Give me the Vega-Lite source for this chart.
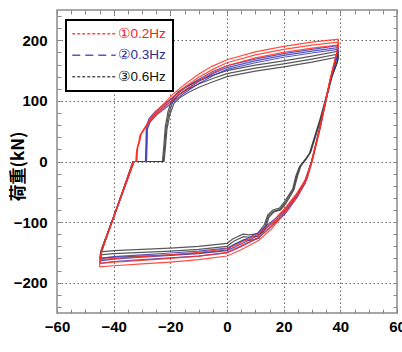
{
"$schema": "https://vega.github.io/schema/vega-lite/v6.json",
"width": 340, "height": 303,
"autosize": {"type": "none"},
"padding": {"left": 57, "top": 10, "right": 5, "bottom": 39},
"background": "white",
"config": {"view": {"stroke": "#8a8a8a", "strokeWidth": 1.5}, "font": "Liberation Sans",
 "legend": {"padding": 7, "strokeColor": "black", "fillColor": "white", "strokeWidth": 2,
  "symbolType": "M-2.5,0H12", "symbolSize": 36, "symbolStrokeWidth": 1.3, "symbolFillColor": "transparent",
  "labelFont": "Liberation Sans", "labelFontSize": 13.5, "labelOffset": 31, "rowPadding": 6.5, "labelLimit": 200}},
"data": {"values": [
{"s":"③0.6Hz","c":1,"i":1,"x":-45,"y":-160},{"s":"③0.6Hz","c":1,"i":2,"x":-44.5,"y":-150},{"s":"③0.6Hz","c":1,"i":3,"x":-38.7,"y":-74},{"s":"③0.6Hz","c":1,"i":4,"x":-33.2,"y":0},{"s":"③0.6Hz","c":1,"i":5,"x":-22.8,"y":0},{"s":"③0.6Hz","c":1,"i":6,"x":-22.3,"y":25},{"s":"③0.6Hz","c":1,"i":7,"x":-21.8,"y":57},{"s":"③0.6Hz","c":1,"i":8,"x":-20.8,"y":83},{"s":"③0.6Hz","c":1,"i":9,"x":-19.3,"y":104},{"s":"③0.6Hz","c":1,"i":10,"x":-17.3,"y":115},{"s":"③0.6Hz","c":1,"i":11,"x":-14.3,"y":124},{"s":"③0.6Hz","c":1,"i":12,"x":-10.3,"y":133},{"s":"③0.6Hz","c":1,"i":13,"x":-5.3,"y":142},{"s":"③0.6Hz","c":1,"i":14,"x":0,"y":150},{"s":"③0.6Hz","c":1,"i":15,"x":10,"y":159},{"s":"③0.6Hz","c":1,"i":16,"x":20,"y":166},{"s":"③0.6Hz","c":1,"i":17,"x":30,"y":174},{"s":"③0.6Hz","c":1,"i":18,"x":39.2,"y":182},{"s":"③0.6Hz","c":1,"i":19,"x":39.4,"y":172},{"s":"③0.6Hz","c":1,"i":20,"x":37.2,"y":142},{"s":"③0.6Hz","c":1,"i":21,"x":33.3,"y":72},{"s":"③0.6Hz","c":1,"i":22,"x":29.6,"y":16},{"s":"③0.6Hz","c":1,"i":23,"x":27.8,"y":3},{"s":"③0.6Hz","c":1,"i":24,"x":26.1,"y":-7},{"s":"③0.6Hz","c":1,"i":25,"x":24.9,"y":-24},{"s":"③0.6Hz","c":1,"i":26,"x":23.6,"y":-47},{"s":"③0.6Hz","c":1,"i":27,"x":20.7,"y":-70},{"s":"③0.6Hz","c":1,"i":28,"x":18.9,"y":-80},{"s":"③0.6Hz","c":1,"i":29,"x":16.6,"y":-83},{"s":"③0.6Hz","c":1,"i":30,"x":14.8,"y":-92},{"s":"③0.6Hz","c":1,"i":31,"x":13.6,"y":-110},{"s":"③0.6Hz","c":1,"i":32,"x":11.2,"y":-127},{"s":"③0.6Hz","c":1,"i":33,"x":8.2,"y":-130},{"s":"③0.6Hz","c":1,"i":34,"x":6,"y":-129},{"s":"③0.6Hz","c":1,"i":35,"x":2.4,"y":-137},{"s":"③0.6Hz","c":1,"i":36,"x":0,"y":-146},{"s":"③0.6Hz","c":1,"i":37,"x":-10,"y":-151},{"s":"③0.6Hz","c":1,"i":38,"x":-20,"y":-154},{"s":"③0.6Hz","c":1,"i":39,"x":-30,"y":-156},{"s":"③0.6Hz","c":1,"i":40,"x":-40,"y":-158},{"s":"③0.6Hz","c":1,"i":41,"x":-45,"y":-160},
{"s":"③0.6Hz","c":2,"i":1,"x":-44.8,"y":-154},{"s":"③0.6Hz","c":2,"i":2,"x":-44.3,"y":-146},{"s":"③0.6Hz","c":2,"i":3,"x":-38.5,"y":-72},{"s":"③0.6Hz","c":2,"i":4,"x":-33,"y":0},{"s":"③0.6Hz","c":2,"i":5,"x":-22.5,"y":0},{"s":"③0.6Hz","c":2,"i":6,"x":-22,"y":25},{"s":"③0.6Hz","c":2,"i":7,"x":-21.5,"y":55},{"s":"③0.6Hz","c":2,"i":8,"x":-20.5,"y":80},{"s":"③0.6Hz","c":2,"i":9,"x":-19,"y":100},{"s":"③0.6Hz","c":2,"i":10,"x":-17,"y":110},{"s":"③0.6Hz","c":2,"i":11,"x":-14,"y":119},{"s":"③0.6Hz","c":2,"i":12,"x":-10,"y":128},{"s":"③0.6Hz","c":2,"i":13,"x":-5,"y":137},{"s":"③0.6Hz","c":2,"i":14,"x":0,"y":145},{"s":"③0.6Hz","c":2,"i":15,"x":10,"y":154},{"s":"③0.6Hz","c":2,"i":16,"x":20,"y":161},{"s":"③0.6Hz","c":2,"i":17,"x":30,"y":169},{"s":"③0.6Hz","c":2,"i":18,"x":39,"y":177},{"s":"③0.6Hz","c":2,"i":19,"x":39.2,"y":168},{"s":"③0.6Hz","c":2,"i":20,"x":37,"y":140},{"s":"③0.6Hz","c":2,"i":21,"x":33,"y":70},{"s":"③0.6Hz","c":2,"i":22,"x":29.3,"y":14},{"s":"③0.6Hz","c":2,"i":23,"x":27.5,"y":2},{"s":"③0.6Hz","c":2,"i":24,"x":25.8,"y":-8},{"s":"③0.6Hz","c":2,"i":25,"x":24.6,"y":-24},{"s":"③0.6Hz","c":2,"i":26,"x":23.4,"y":-46},{"s":"③0.6Hz","c":2,"i":27,"x":20.5,"y":-68},{"s":"③0.6Hz","c":2,"i":28,"x":18.7,"y":-79},{"s":"③0.6Hz","c":2,"i":29,"x":16.4,"y":-82},{"s":"③0.6Hz","c":2,"i":30,"x":14.6,"y":-90},{"s":"③0.6Hz","c":2,"i":31,"x":13.4,"y":-107},{"s":"③0.6Hz","c":2,"i":32,"x":11,"y":-123},{"s":"③0.6Hz","c":2,"i":33,"x":8,"y":-125},{"s":"③0.6Hz","c":2,"i":34,"x":5.8,"y":-124},{"s":"③0.6Hz","c":2,"i":35,"x":2.2,"y":-132},{"s":"③0.6Hz","c":2,"i":36,"x":0,"y":-140},{"s":"③0.6Hz","c":2,"i":37,"x":-10,"y":-145},{"s":"③0.6Hz","c":2,"i":38,"x":-20,"y":-148},{"s":"③0.6Hz","c":2,"i":39,"x":-30,"y":-150},{"s":"③0.6Hz","c":2,"i":40,"x":-40,"y":-152},{"s":"③0.6Hz","c":2,"i":41,"x":-44.8,"y":-154},
{"s":"③0.6Hz","c":3,"i":1,"x":-44.6,"y":-149},{"s":"③0.6Hz","c":3,"i":2,"x":-44.1,"y":-142},{"s":"③0.6Hz","c":3,"i":3,"x":-38.3,"y":-70},{"s":"③0.6Hz","c":3,"i":4,"x":-32.8,"y":0},{"s":"③0.6Hz","c":3,"i":5,"x":-22.2,"y":0},{"s":"③0.6Hz","c":3,"i":6,"x":-21.7,"y":25},{"s":"③0.6Hz","c":3,"i":7,"x":-21.2,"y":53},{"s":"③0.6Hz","c":3,"i":8,"x":-20.2,"y":77},{"s":"③0.6Hz","c":3,"i":9,"x":-18.7,"y":96},{"s":"③0.6Hz","c":3,"i":10,"x":-16.7,"y":105},{"s":"③0.6Hz","c":3,"i":11,"x":-13.7,"y":114},{"s":"③0.6Hz","c":3,"i":12,"x":-9.7,"y":123},{"s":"③0.6Hz","c":3,"i":13,"x":-4.7,"y":132},{"s":"③0.6Hz","c":3,"i":14,"x":0,"y":140},{"s":"③0.6Hz","c":3,"i":15,"x":10,"y":149},{"s":"③0.6Hz","c":3,"i":16,"x":20,"y":156},{"s":"③0.6Hz","c":3,"i":17,"x":30,"y":164},{"s":"③0.6Hz","c":3,"i":18,"x":38.8,"y":172},{"s":"③0.6Hz","c":3,"i":19,"x":39,"y":164},{"s":"③0.6Hz","c":3,"i":20,"x":36.8,"y":138},{"s":"③0.6Hz","c":3,"i":21,"x":32.7,"y":68},{"s":"③0.6Hz","c":3,"i":22,"x":29,"y":12},{"s":"③0.6Hz","c":3,"i":23,"x":27.2,"y":1},{"s":"③0.6Hz","c":3,"i":24,"x":25.5,"y":-9},{"s":"③0.6Hz","c":3,"i":25,"x":24.3,"y":-24},{"s":"③0.6Hz","c":3,"i":26,"x":23.2,"y":-45},{"s":"③0.6Hz","c":3,"i":27,"x":20.3,"y":-66},{"s":"③0.6Hz","c":3,"i":28,"x":18.5,"y":-77},{"s":"③0.6Hz","c":3,"i":29,"x":16.2,"y":-80},{"s":"③0.6Hz","c":3,"i":30,"x":14.4,"y":-88},{"s":"③0.6Hz","c":3,"i":31,"x":13.2,"y":-104},{"s":"③0.6Hz","c":3,"i":32,"x":10.8,"y":-119},{"s":"③0.6Hz","c":3,"i":33,"x":7.8,"y":-121},{"s":"③0.6Hz","c":3,"i":34,"x":5.6,"y":-120},{"s":"③0.6Hz","c":3,"i":35,"x":2,"y":-128},{"s":"③0.6Hz","c":3,"i":36,"x":0,"y":-135},{"s":"③0.6Hz","c":3,"i":37,"x":-10,"y":-140},{"s":"③0.6Hz","c":3,"i":38,"x":-20,"y":-143},{"s":"③0.6Hz","c":3,"i":39,"x":-30,"y":-145},{"s":"③0.6Hz","c":3,"i":40,"x":-40,"y":-147},{"s":"③0.6Hz","c":3,"i":41,"x":-44.6,"y":-149},
{"s":"②0.3Hz","c":1,"i":1,"x":-44.9,"y":-168},{"s":"②0.3Hz","c":1,"i":2,"x":-44.4,"y":-150},{"s":"②0.3Hz","c":1,"i":3,"x":-38.6,"y":-73},{"s":"②0.3Hz","c":1,"i":4,"x":-33.1,"y":0},{"s":"②0.3Hz","c":1,"i":5,"x":-28.8,"y":0},{"s":"②0.3Hz","c":1,"i":6,"x":-28.6,"y":30},{"s":"②0.3Hz","c":1,"i":7,"x":-28.5,"y":57},{"s":"②0.3Hz","c":1,"i":8,"x":-27.5,"y":71},{"s":"②0.3Hz","c":1,"i":9,"x":-25.2,"y":83},{"s":"②0.3Hz","c":1,"i":10,"x":-22.2,"y":94},{"s":"②0.3Hz","c":1,"i":11,"x":-18.2,"y":109},{"s":"②0.3Hz","c":1,"i":12,"x":-15.2,"y":120},{"s":"②0.3Hz","c":1,"i":13,"x":-10.2,"y":135},{"s":"②0.3Hz","c":1,"i":14,"x":-5.2,"y":148},{"s":"②0.3Hz","c":1,"i":15,"x":0,"y":158},{"s":"②0.3Hz","c":1,"i":16,"x":10,"y":169},{"s":"②0.3Hz","c":1,"i":17,"x":20,"y":178},{"s":"②0.3Hz","c":1,"i":18,"x":30,"y":185},{"s":"②0.3Hz","c":1,"i":19,"x":39.1,"y":191},{"s":"②0.3Hz","c":1,"i":20,"x":39.3,"y":183},{"s":"②0.3Hz","c":1,"i":21,"x":36.6,"y":137},{"s":"②0.3Hz","c":1,"i":22,"x":33.1,"y":61},{"s":"②0.3Hz","c":1,"i":23,"x":30.1,"y":2},{"s":"②0.3Hz","c":1,"i":24,"x":27.6,"y":-36},{"s":"②0.3Hz","c":1,"i":25,"x":24.6,"y":-60},{"s":"②0.3Hz","c":1,"i":26,"x":20.6,"y":-86},{"s":"②0.3Hz","c":1,"i":27,"x":17.1,"y":-101},{"s":"②0.3Hz","c":1,"i":28,"x":14.1,"y":-114},{"s":"②0.3Hz","c":1,"i":29,"x":11.1,"y":-126},{"s":"②0.3Hz","c":1,"i":30,"x":5.1,"y":-140},{"s":"②0.3Hz","c":1,"i":31,"x":0,"y":-151},{"s":"②0.3Hz","c":1,"i":32,"x":-10,"y":-156},{"s":"②0.3Hz","c":1,"i":33,"x":-20,"y":-159},{"s":"②0.3Hz","c":1,"i":34,"x":-30,"y":-162},{"s":"②0.3Hz","c":1,"i":35,"x":-40,"y":-165},{"s":"②0.3Hz","c":1,"i":36,"x":-44.9,"y":-168},
{"s":"②0.3Hz","c":2,"i":1,"x":-44.8,"y":-164},{"s":"②0.3Hz","c":2,"i":2,"x":-44.3,"y":-148},{"s":"②0.3Hz","c":2,"i":3,"x":-38.5,"y":-72},{"s":"②0.3Hz","c":2,"i":4,"x":-33,"y":0},{"s":"②0.3Hz","c":2,"i":5,"x":-28.6,"y":0},{"s":"②0.3Hz","c":2,"i":6,"x":-28.4,"y":30},{"s":"②0.3Hz","c":2,"i":7,"x":-28.3,"y":55},{"s":"②0.3Hz","c":2,"i":8,"x":-27.3,"y":68},{"s":"②0.3Hz","c":2,"i":9,"x":-25,"y":80},{"s":"②0.3Hz","c":2,"i":10,"x":-22,"y":91},{"s":"②0.3Hz","c":2,"i":11,"x":-18,"y":106},{"s":"②0.3Hz","c":2,"i":12,"x":-15,"y":117},{"s":"②0.3Hz","c":2,"i":13,"x":-10,"y":132},{"s":"②0.3Hz","c":2,"i":14,"x":-5,"y":145},{"s":"②0.3Hz","c":2,"i":15,"x":0,"y":155},{"s":"②0.3Hz","c":2,"i":16,"x":10,"y":166},{"s":"②0.3Hz","c":2,"i":17,"x":20,"y":175},{"s":"②0.3Hz","c":2,"i":18,"x":30,"y":182},{"s":"②0.3Hz","c":2,"i":19,"x":39,"y":188},{"s":"②0.3Hz","c":2,"i":20,"x":39.2,"y":180},{"s":"②0.3Hz","c":2,"i":21,"x":36.5,"y":135},{"s":"②0.3Hz","c":2,"i":22,"x":33,"y":60},{"s":"②0.3Hz","c":2,"i":23,"x":30,"y":2},{"s":"②0.3Hz","c":2,"i":24,"x":27.5,"y":-35},{"s":"②0.3Hz","c":2,"i":25,"x":24.5,"y":-58},{"s":"②0.3Hz","c":2,"i":26,"x":20.5,"y":-83},{"s":"②0.3Hz","c":2,"i":27,"x":17,"y":-98},{"s":"②0.3Hz","c":2,"i":28,"x":14,"y":-110},{"s":"②0.3Hz","c":2,"i":29,"x":11,"y":-122},{"s":"②0.3Hz","c":2,"i":30,"x":5,"y":-136},{"s":"②0.3Hz","c":2,"i":31,"x":0,"y":-147},{"s":"②0.3Hz","c":2,"i":32,"x":-10,"y":-152},{"s":"②0.3Hz","c":2,"i":33,"x":-20,"y":-155},{"s":"②0.3Hz","c":2,"i":34,"x":-30,"y":-158},{"s":"②0.3Hz","c":2,"i":35,"x":-40,"y":-161},{"s":"②0.3Hz","c":2,"i":36,"x":-44.8,"y":-164},
{"s":"②0.3Hz","c":3,"i":1,"x":-44.7,"y":-160},{"s":"②0.3Hz","c":3,"i":2,"x":-44.2,"y":-146},{"s":"②0.3Hz","c":3,"i":3,"x":-38.4,"y":-71},{"s":"②0.3Hz","c":3,"i":4,"x":-32.9,"y":0},{"s":"②0.3Hz","c":3,"i":5,"x":-28.4,"y":0},{"s":"②0.3Hz","c":3,"i":6,"x":-28.2,"y":30},{"s":"②0.3Hz","c":3,"i":7,"x":-28.1,"y":53},{"s":"②0.3Hz","c":3,"i":8,"x":-27.1,"y":65},{"s":"②0.3Hz","c":3,"i":9,"x":-24.8,"y":77},{"s":"②0.3Hz","c":3,"i":10,"x":-21.8,"y":88},{"s":"②0.3Hz","c":3,"i":11,"x":-17.8,"y":103},{"s":"②0.3Hz","c":3,"i":12,"x":-14.8,"y":114},{"s":"②0.3Hz","c":3,"i":13,"x":-9.8,"y":129},{"s":"②0.3Hz","c":3,"i":14,"x":-4.8,"y":142},{"s":"②0.3Hz","c":3,"i":15,"x":0,"y":152},{"s":"②0.3Hz","c":3,"i":16,"x":10,"y":163},{"s":"②0.3Hz","c":3,"i":17,"x":20,"y":172},{"s":"②0.3Hz","c":3,"i":18,"x":30,"y":179},{"s":"②0.3Hz","c":3,"i":19,"x":38.9,"y":185},{"s":"②0.3Hz","c":3,"i":20,"x":39.1,"y":177},{"s":"②0.3Hz","c":3,"i":21,"x":36.4,"y":133},{"s":"②0.3Hz","c":3,"i":22,"x":32.9,"y":59},{"s":"②0.3Hz","c":3,"i":23,"x":29.9,"y":1},{"s":"②0.3Hz","c":3,"i":24,"x":27.4,"y":-33},{"s":"②0.3Hz","c":3,"i":25,"x":24.4,"y":-56},{"s":"②0.3Hz","c":3,"i":26,"x":20.4,"y":-80},{"s":"②0.3Hz","c":3,"i":27,"x":16.9,"y":-95},{"s":"②0.3Hz","c":3,"i":28,"x":13.9,"y":-106},{"s":"②0.3Hz","c":3,"i":29,"x":10.9,"y":-118},{"s":"②0.3Hz","c":3,"i":30,"x":4.9,"y":-132},{"s":"②0.3Hz","c":3,"i":31,"x":0,"y":-143},{"s":"②0.3Hz","c":3,"i":32,"x":-10,"y":-148},{"s":"②0.3Hz","c":3,"i":33,"x":-20,"y":-151},{"s":"②0.3Hz","c":3,"i":34,"x":-30,"y":-154},{"s":"②0.3Hz","c":3,"i":35,"x":-40,"y":-157},{"s":"②0.3Hz","c":3,"i":36,"x":-44.7,"y":-160},
{"s":"①0.2Hz","c":1,"i":1,"x":-45,"y":-174},{"s":"①0.2Hz","c":1,"i":2,"x":-44.5,"y":-152},{"s":"①0.2Hz","c":1,"i":3,"x":-38.7,"y":-74},{"s":"①0.2Hz","c":1,"i":4,"x":-33.2,"y":0},{"s":"①0.2Hz","c":1,"i":5,"x":-32.2,"y":0},{"s":"①0.2Hz","c":1,"i":6,"x":-31.9,"y":18},{"s":"①0.2Hz","c":1,"i":7,"x":-31.3,"y":28},{"s":"①0.2Hz","c":1,"i":8,"x":-30.8,"y":42},{"s":"①0.2Hz","c":1,"i":9,"x":-29.8,"y":50},{"s":"①0.2Hz","c":1,"i":10,"x":-28.6,"y":59},{"s":"①0.2Hz","c":1,"i":11,"x":-26.3,"y":76},{"s":"①0.2Hz","c":1,"i":12,"x":-22.8,"y":93},{"s":"①0.2Hz","c":1,"i":13,"x":-19.3,"y":110},{"s":"①0.2Hz","c":1,"i":14,"x":-15.3,"y":126},{"s":"①0.2Hz","c":1,"i":15,"x":-10.3,"y":143},{"s":"①0.2Hz","c":1,"i":16,"x":-5.3,"y":157},{"s":"①0.2Hz","c":1,"i":17,"x":0,"y":168},{"s":"①0.2Hz","c":1,"i":18,"x":10,"y":181},{"s":"①0.2Hz","c":1,"i":19,"x":20,"y":190},{"s":"①0.2Hz","c":1,"i":20,"x":30,"y":197},{"s":"①0.2Hz","c":1,"i":21,"x":39.2,"y":202},{"s":"①0.2Hz","c":1,"i":22,"x":39.4,"y":192},{"s":"①0.2Hz","c":1,"i":23,"x":36.6,"y":138},{"s":"①0.2Hz","c":1,"i":24,"x":33,"y":57},{"s":"①0.2Hz","c":1,"i":25,"x":30.1,"y":1},{"s":"①0.2Hz","c":1,"i":26,"x":28.3,"y":-28},{"s":"①0.2Hz","c":1,"i":27,"x":24.8,"y":-58},{"s":"①0.2Hz","c":1,"i":28,"x":20.7,"y":-83},{"s":"①0.2Hz","c":1,"i":29,"x":18.9,"y":-93},{"s":"①0.2Hz","c":1,"i":30,"x":16,"y":-110},{"s":"①0.2Hz","c":1,"i":31,"x":11.3,"y":-130},{"s":"①0.2Hz","c":1,"i":32,"x":4.8,"y":-146},{"s":"①0.2Hz","c":1,"i":33,"x":0,"y":-156},{"s":"①0.2Hz","c":1,"i":34,"x":-10,"y":-162},{"s":"①0.2Hz","c":1,"i":35,"x":-20,"y":-166},{"s":"①0.2Hz","c":1,"i":36,"x":-30,"y":-169},{"s":"①0.2Hz","c":1,"i":37,"x":-40,"y":-172},{"s":"①0.2Hz","c":1,"i":38,"x":-45,"y":-174},
{"s":"①0.2Hz","c":2,"i":1,"x":-44.8,"y":-168},{"s":"①0.2Hz","c":2,"i":2,"x":-44.3,"y":-148},{"s":"①0.2Hz","c":2,"i":3,"x":-38.5,"y":-72},{"s":"①0.2Hz","c":2,"i":4,"x":-33,"y":0},{"s":"①0.2Hz","c":2,"i":5,"x":-32,"y":0},{"s":"①0.2Hz","c":2,"i":6,"x":-31.7,"y":22},{"s":"①0.2Hz","c":2,"i":7,"x":-31,"y":30},{"s":"①0.2Hz","c":2,"i":8,"x":-30.5,"y":44},{"s":"①0.2Hz","c":2,"i":9,"x":-29.5,"y":51},{"s":"①0.2Hz","c":2,"i":10,"x":-28.3,"y":60},{"s":"①0.2Hz","c":2,"i":11,"x":-26,"y":75},{"s":"①0.2Hz","c":2,"i":12,"x":-22.5,"y":91},{"s":"①0.2Hz","c":2,"i":13,"x":-19,"y":107},{"s":"①0.2Hz","c":2,"i":14,"x":-15,"y":122},{"s":"①0.2Hz","c":2,"i":15,"x":-10,"y":139},{"s":"①0.2Hz","c":2,"i":16,"x":-5,"y":152},{"s":"①0.2Hz","c":2,"i":17,"x":0,"y":163},{"s":"①0.2Hz","c":2,"i":18,"x":10,"y":176},{"s":"①0.2Hz","c":2,"i":19,"x":20,"y":185},{"s":"①0.2Hz","c":2,"i":20,"x":30,"y":192},{"s":"①0.2Hz","c":2,"i":21,"x":39,"y":197},{"s":"①0.2Hz","c":2,"i":22,"x":39.2,"y":188},{"s":"①0.2Hz","c":2,"i":23,"x":36.4,"y":135},{"s":"①0.2Hz","c":2,"i":24,"x":32.8,"y":55},{"s":"①0.2Hz","c":2,"i":25,"x":29.9,"y":0},{"s":"①0.2Hz","c":2,"i":26,"x":28.1,"y":-28},{"s":"①0.2Hz","c":2,"i":27,"x":24.6,"y":-56},{"s":"①0.2Hz","c":2,"i":28,"x":20.5,"y":-80},{"s":"①0.2Hz","c":2,"i":29,"x":18.7,"y":-90},{"s":"①0.2Hz","c":2,"i":30,"x":15.8,"y":-106},{"s":"①0.2Hz","c":2,"i":31,"x":11.1,"y":-125},{"s":"①0.2Hz","c":2,"i":32,"x":4.6,"y":-140},{"s":"①0.2Hz","c":2,"i":33,"x":0,"y":-150},{"s":"①0.2Hz","c":2,"i":34,"x":-10,"y":-156},{"s":"①0.2Hz","c":2,"i":35,"x":-20,"y":-160},{"s":"①0.2Hz","c":2,"i":36,"x":-30,"y":-163},{"s":"①0.2Hz","c":2,"i":37,"x":-40,"y":-166},{"s":"①0.2Hz","c":2,"i":38,"x":-44.8,"y":-168},
{"s":"①0.2Hz","c":3,"i":1,"x":-44.6,"y":-162},{"s":"①0.2Hz","c":3,"i":2,"x":-44.1,"y":-144},{"s":"①0.2Hz","c":3,"i":3,"x":-38.3,"y":-70},{"s":"①0.2Hz","c":3,"i":4,"x":-32.8,"y":0},{"s":"①0.2Hz","c":3,"i":5,"x":-31.8,"y":0},{"s":"①0.2Hz","c":3,"i":6,"x":-31.5,"y":26},{"s":"①0.2Hz","c":3,"i":7,"x":-30.8,"y":34},{"s":"①0.2Hz","c":3,"i":8,"x":-30.2,"y":47},{"s":"①0.2Hz","c":3,"i":9,"x":-29.2,"y":54},{"s":"①0.2Hz","c":3,"i":10,"x":-28,"y":62},{"s":"①0.2Hz","c":3,"i":11,"x":-25.7,"y":74},{"s":"①0.2Hz","c":3,"i":12,"x":-22.2,"y":89},{"s":"①0.2Hz","c":3,"i":13,"x":-18.7,"y":104},{"s":"①0.2Hz","c":3,"i":14,"x":-14.7,"y":118},{"s":"①0.2Hz","c":3,"i":15,"x":-9.7,"y":134},{"s":"①0.2Hz","c":3,"i":16,"x":-4.7,"y":147},{"s":"①0.2Hz","c":3,"i":17,"x":0,"y":158},{"s":"①0.2Hz","c":3,"i":18,"x":10,"y":171},{"s":"①0.2Hz","c":3,"i":19,"x":20,"y":180},{"s":"①0.2Hz","c":3,"i":20,"x":30,"y":187},{"s":"①0.2Hz","c":3,"i":21,"x":38.8,"y":192},{"s":"①0.2Hz","c":3,"i":22,"x":39,"y":184},{"s":"①0.2Hz","c":3,"i":23,"x":36.2,"y":132},{"s":"①0.2Hz","c":3,"i":24,"x":32.6,"y":52},{"s":"①0.2Hz","c":3,"i":25,"x":29.7,"y":-2},{"s":"①0.2Hz","c":3,"i":26,"x":27.9,"y":-28},{"s":"①0.2Hz","c":3,"i":27,"x":24.4,"y":-54},{"s":"①0.2Hz","c":3,"i":28,"x":20.3,"y":-78},{"s":"①0.2Hz","c":3,"i":29,"x":18.5,"y":-87},{"s":"①0.2Hz","c":3,"i":30,"x":15.6,"y":-102},{"s":"①0.2Hz","c":3,"i":31,"x":10.9,"y":-120},{"s":"①0.2Hz","c":3,"i":32,"x":4.4,"y":-135},{"s":"①0.2Hz","c":3,"i":33,"x":0,"y":-144},{"s":"①0.2Hz","c":3,"i":34,"x":-10,"y":-150},{"s":"①0.2Hz","c":3,"i":35,"x":-20,"y":-154},{"s":"①0.2Hz","c":3,"i":36,"x":-30,"y":-157},{"s":"①0.2Hz","c":3,"i":37,"x":-40,"y":-160},{"s":"①0.2Hz","c":3,"i":38,"x":-44.6,"y":-162}
]},
"layer": [
{
"mark": {"type": "line", "strokeWidth": 1.2, "opacity": 0.85},
"encoding": {
"x": {"field": "x", "type": "quantitative", "scale": {"domain": [-60, 60], "nice": false, "zero": false},
 "axis": {"orient": "bottom", "values": [-60,-55,-50,-45,-40,-35,-30,-25,-20,-15,-10,-5,0,5,10,15,20,25,30,35,40,45,50,55,60],
  "labelExpr": "datum.value % 20 == 0 ? datum.label : ''", "labelOverlap": false, "labelFlush": false,
  "grid": true, "gridColor": "#666666", "gridDash": [1.5, 2.5], "gridWidth": 1,
  "gridOpacity": {"condition": {"test": "datum.value % 20 == 0 && abs(datum.value) < 60", "value": 1}, "value": 0},
  "domain": false, "tickSize": -4, "tickColor": "#888888", "tickWidth": 1,
  "labelFont": "Liberation Sans", "labelFontWeight": "bold", "labelFontSize": 15, "labelColor": "black", "labelPadding": 10,
  "title": "変位(mm)", "titleFont": "Noto Sans CJK JP", "titleFontSize": 17, "titleFontWeight": "bold", "titleColor": "black",
  "titleX": 170, "titleY": 330, "titleBaseline": "middle", "titleAlign": "center"}},
"y": {"field": "y", "type": "quantitative", "scale": {"domain": [-250, 250], "nice": false, "zero": false},
 "axis": {"orient": "left", "values": [-240,-220,-200,-180,-160,-140,-120,-100,-80,-60,-40,-20,0,20,40,60,80,100,120,140,160,180,200,220,240],
  "labelExpr": "datum.value % 100 == 0 ? datum.label : ''", "labelOverlap": false, "labelFlush": false,
  "grid": true, "gridColor": "#666666", "gridDash": [1.5, 2.5], "gridWidth": 1,
  "gridOpacity": {"condition": {"test": "datum.value % 100 == 0", "value": 1}, "value": 0},
  "domain": false, "tickSize": -4, "tickColor": "#888888", "tickWidth": 1,
  "labelFont": "Liberation Sans", "labelFontWeight": "bold", "labelFontSize": 15, "labelColor": "black", "labelPadding": 14,
  "title": "荷重(kN)", "titleFont": "Noto Sans CJK JP", "titleFontSize": 17, "titleFontWeight": "bold", "titleColor": "black",
  "titleX": -39, "titleY": 156, "titleAngle": -90, "titleBaseline": "middle", "titleAlign": "center"}},
"color": {"field": "s", "type": "nominal",
 "scale": {"domain": ["①0.2Hz", "②0.3Hz", "③0.6Hz"], "range": ["#ff2e1f", "#3a3ab8", "#3c3c3c"]},
 "legend": {"orient": "none", "legendX": 9, "legendY": 10, "title": null,
  "labelColor": {"expr": "datum.value === '①0.2Hz' ? '#ee2222' : (datum.value === '②0.3Hz' ? '#2b2e8f' : '#111111')"},
  "symbolDash": {"expr": "datum.value === '②0.3Hz' ? [8, 5] : [3, 2]"}}},
"detail": {"field": "c", "type": "nominal"},
"order": {"field": "i", "type": "quantitative"}
}
},
{
"mark": {"type": "line", "opacity": 0},
"encoding": {
"x": {"field": "x", "type": "quantitative", "scale": {"domain": [-60, 60], "nice": false, "zero": false},
 "axis": {"orient": "top", "values": [-60,-55,-50,-45,-40,-35,-30,-25,-20,-15,-10,-5,0,5,10,15,20,25,30,35,40,45,50,55,60],
  "labels": false, "grid": false, "domain": false, "tickSize": -4, "tickColor": "#888888", "title": null}},
"y": {"field": "y", "type": "quantitative", "scale": {"domain": [-250, 250], "nice": false, "zero": false},
 "axis": {"orient": "right", "values": [-240,-220,-200,-180,-160,-140,-120,-100,-80,-60,-40,-20,0,20,40,60,80,100,120,140,160,180,200,220,240],
  "labels": false, "grid": false, "domain": false, "tickSize": -4, "tickColor": "#888888", "title": null}},
"detail": {"field": "c", "type": "nominal"},
"order": {"field": "i", "type": "quantitative"}
}
}
],
"resolve": {"axis": {"x": "independent", "y": "independent"}}
}
